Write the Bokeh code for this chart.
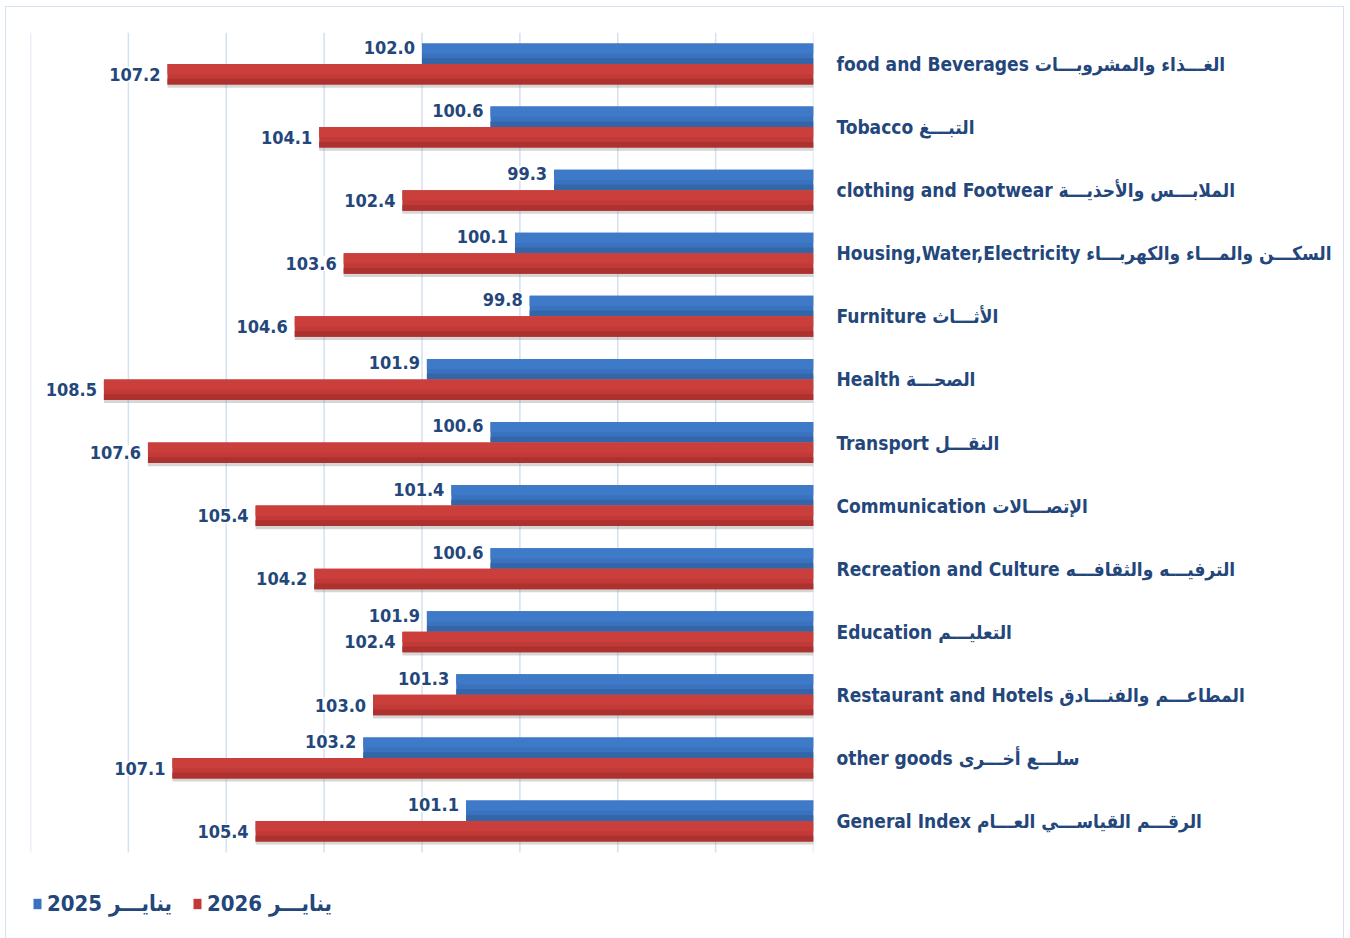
from bokeh.plotting import figure
from bokeh.models import ColumnDataSource, Range1d, FixedTicker, Legend, LegendItem
from bokeh.core.properties import value
from bokeh.embed import file_html
from bokeh.resources import INLINE

categories = [
    "food and Beverages  الغـــذاء والمشروبـــات",
    "Tobacco التبـــغ",
    "clothing and Footwear الملابـــس والأحذيـــة",
    "Housing,Water,Electricity السكـــن والمـــاء والكهربـــاء",
    "Furniture الأثـــاث",
    "Health الصحـــة",
    "Transport  النقـــل",
    "Communication الإتصـــالات",
    "Recreation and Culture الترفيـــه والثقافـــه",
    "Education  التعليـــم",
    "Restaurant and Hotels المطاعـــم والفنـــادق",
    "other goods سلـــع أخـــرى",
    "General Index  الرقـــم القياســـي العـــام",
]
jan_2025 = [102.0, 100.6, 99.3, 100.1, 99.8, 101.9, 100.6, 101.4, 100.6, 101.9, 101.3, 103.2, 101.1]
jan_2026 = [107.2, 104.1, 102.4, 103.6, 104.6, 108.5, 107.6, 105.4, 104.2, 102.4, 103.0, 107.1, 105.4]
series_names = ["2025 ينايـــر", "2026 ينايـــر"]
grid_ticks = [94, 96, 98, 100, 102, 104, 106, 108, 110]
x_min, x_max = 94, 110

FONT = "DejaVu Sans Condensed"
TXT = "#23467b"
GRIDC = "#d3e1f1"

n = len(categories)
pos = [n - 1 - i for i in range(n)]          # top-to-bottom positions
bh = 0.325                                     # bar thickness (category units)
off = bh / 2

src = ColumnDataSource(dict(
    pos=pos,
    y25=[v + off for v in pos],
    y26=[v - off for v in pos],
    y25t=[v + off + bh * 0.25 for v in pos],
    y26t=[v - off + bh * 0.25 for v in pos],
    y25b=[v + off - bh * 0.36 for v in pos],
    y26b=[v - off - bh * 0.36 for v in pos],
    ysh=[v - off - 0.05 for v in pos],
    y25l=[v + off + 0.1 for v in pos],
    v25=jan_2025,
    v26=jan_2026,
    base=[x_min] * n,
    l25=["%.1f" % v for v in jan_2025],
    l26=["%.1f" % v for v in jan_2026],
))

# frame: 820 px for 13 categories, extended down to page bottom for the legend
unit = 820 / 13
y_top = n - 0.5
y_bot = y_top - 906 / unit

p = figure(
    width=1337, height=931,
    y_range=Range1d(y_bot, y_top),
    x_range=Range1d(x_max, x_min),
    y_axis_location="right",
    output_backend="svg", toolbar_location=None,
    min_border_left=24, min_border_right=530, min_border_top=25, min_border_bottom=0,
)
p.styles = {"margin-left": "6px", "margin-top": "7px", "outline": "1px solid #d6e2f0"}
p.outline_line_color = None
p.background_fill_color = "white"

# vertical gridlines limited to the category area
gsrc = ColumnDataSource(dict(x=grid_ticks, y0=[-0.5] * len(grid_ticks), y1=[y_top] * len(grid_ticks)))
p.segment(x0="x", x1="x", y0="y0", y1="y1", source=gsrc, line_color=GRIDC, line_width=1.5)

# shadow under red bars
p.hbar(y="ysh", left="base", right="v26", height=bh, source=src,
       fill_color="#8a8a8a", fill_alpha=0.35, line_color=None)
r25 = p.hbar(y="y25", left="base", right="v25", height=bh, source=src,
             fill_color="#3a72bf", line_color=None)
p.hbar(y="y25t", left="base", right="v25", height=bh * 0.5, source=src,
       fill_color="#3e7ac7", line_color=None)
p.hbar(y="y25b", left="base", right="v25", height=bh * 0.28, source=src,
       fill_color="#3366a9", line_color=None)
r26 = p.hbar(y="y26", left="base", right="v26", height=bh, source=src,
             fill_color="#c13a37", line_color=None)
p.hbar(y="y26t", left="base", right="v26", height=bh * 0.5, source=src,
       fill_color="#ca3e3b", line_color=None)
p.hbar(y="y26b", left="base", right="v26", height=bh * 0.28, source=src,
       fill_color="#ac312f", line_color=None)

p.text(x="v25", y="y25l", text="l25", source=src,
       text_align="right", text_baseline="middle", x_offset=-6,
       text_font=value(FONT), text_font_style="bold", text_font_size="18px", text_color=TXT,
       background_fill_color="white", padding=1)
p.text(x="v26", y="y26", text="l26", source=src,
       text_align="right", text_baseline="middle", x_offset=-6,
       text_font=value(FONT), text_font_style="bold", text_font_size="18px", text_color=TXT,
       background_fill_color="white", padding=1)

p.xaxis.visible = False
p.xgrid.grid_line_color = None
p.ygrid.grid_line_color = None

ya = p.yaxis[0]
ya.ticker = FixedTicker(ticks=pos)
ya.major_label_overrides = {pv: lab for pv, lab in zip(pos, categories)}
ya.axis_line_color = None
ya.major_tick_line_color = None
ya.minor_tick_line_color = None
ya.major_label_standoff = 17
ya.major_label_text_font = FONT
ya.major_label_text_font_style = "bold"
ya.major_label_text_font_size = "19px"
ya.major_label_text_color = TXT

legend = Legend(items=[LegendItem(label=series_names[0], renderers=[r25]),
                       LegendItem(label=series_names[1], renderers=[r26])],
                orientation="horizontal", location=(2, 22),
                label_text_font=FONT, label_text_font_style="bold", label_text_font_size="22px",
                label_text_color=TXT, glyph_width=10, glyph_height=13, label_standoff=5,
                spacing=20, padding=0, margin=0, border_line_color=None,
                background_fill_alpha=0)
p.add_layout(legend, "center")

open("out.html", "w").write(file_html(p, INLINE))
